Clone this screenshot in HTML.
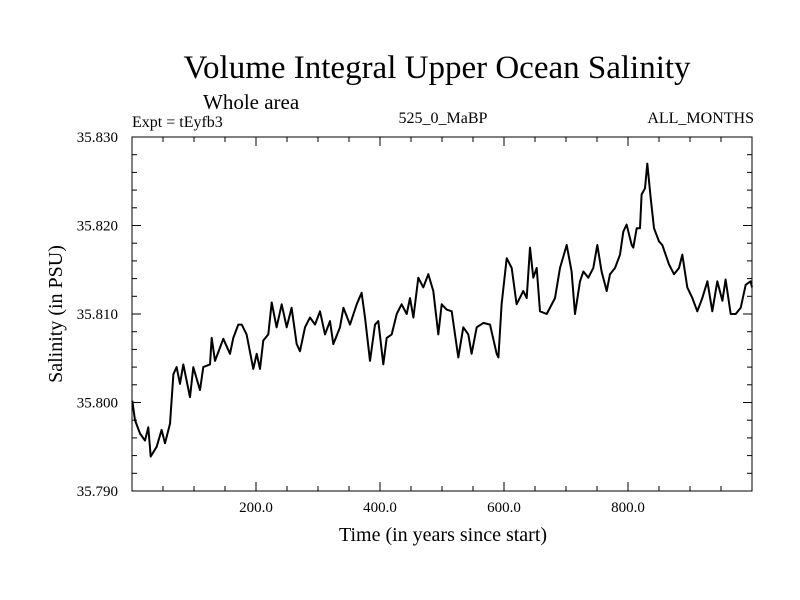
<!DOCTYPE html>
<html><head><meta charset="utf-8"><style>
body{margin:0;background:#fff}
svg{display:block;font-family:"Liberation Serif",serif}
</style></head><body>
<svg id="c" width="800" height="600">
<text x="437" y="78" font-size="33" text-anchor="middle">Volume Integral Upper Ocean Salinity</text>
<text x="203" y="109" font-size="21">Whole area</text>
<text x="132" y="127" font-size="16">Expt = tEyfb3</text>
<text x="443" y="123" font-size="16" text-anchor="middle">525_0_MaBP</text>
<text x="754" y="123" font-size="16" text-anchor="end">ALL_MONTHS</text>
<text x="443" y="541" font-size="20" text-anchor="middle">Time (in years since start)</text>
<text transform="translate(62,314) rotate(-90)" font-size="20" text-anchor="middle">Salinity (in PSU)</text>
<g id="ax"></g>
</svg>
<script>
const years=[0.5,4.8,12.9,21,26.3,30.1,39.8,47.8,53.2,61.3,66.7,72,77.4,82.8,93.5,98.9,109.7,115,125.8,128.5,133.9,141.9,147.3,158.1,163.4,171.5,176.9,184.9,195.7,201.1,206.5,211.8,219.9,225.3,233.3,241.4,249.5,257.5,265.6,271,279,287.1,295.2,303.2,311.3,319.4,324.7,335.5,340.9,351.6,362.4,370.4,375.8,383.9,391.9,397.3,405.4,410.8,418.8,426.9,434.9,443,448.4,453.8,461.8,469.9,477.9,486,494.1,499.5,507.5,515.6,526.3,534.4,542.5,547.8,555.9,566.7,577.4,588.2,590.9,596.2,604.3,612.4,620.4,631.2,636.6,642,647.3,652.7,658.1,668.8,682.3,690.3,701.1,709.1,714.5,722.6,728,736,744.1,750.5,757.5,765.6,771,779,787.1,792.5,797.8,805.9,808.6,814,819.4,822,827.4,831.2,836.6,841.9,850,855.4,866.1,874.2,882.3,887.6,895.7,903.8,911.8,919.9,928,936,944.1,952.2,957.5,965.6,973.7,981.7,989.8,997.8,1000];
const salinity=[35.8002,35.7980,35.7965,35.7957,35.7972,35.7939,35.7950,35.7969,35.7954,35.7976,35.8032,35.8040,35.8021,35.8043,35.8006,35.8040,35.8014,35.8040,35.8043,35.8073,35.8047,35.8062,35.8072,35.8055,35.8073,35.8088,35.8088,35.8077,35.8038,35.8055,35.8038,35.8070,35.8077,35.8113,35.8085,35.8111,35.8085,35.8107,35.8066,35.8058,35.8085,35.8096,35.8088,35.8103,35.8077,35.8092,35.8066,35.8085,35.8107,35.8088,35.8111,35.8124,35.8096,35.8047,35.8088,35.8092,35.8043,35.8073,35.8077,35.8100,35.8111,35.8100,35.8118,35.8096,35.8141,35.8130,35.8145,35.8126,35.8077,35.8111,35.8105,35.8103,35.8051,35.8085,35.8077,35.8055,35.8085,35.8090,35.8088,35.8055,35.8051,35.8111,35.8163,35.8152,35.8111,35.8126,35.8118,35.8175,35.8141,35.8152,35.8103,35.8100,35.8118,35.8152,35.8178,35.8148,35.8100,35.8137,35.8148,35.8141,35.8152,35.8178,35.8148,35.8126,35.8145,35.8152,35.8167,35.8193,35.8201,35.8178,35.8175,35.8197,35.8197,35.8235,35.8242,35.8270,35.8231,35.8197,35.8182,35.8178,35.8156,35.8145,35.8152,35.8167,35.8130,35.8118,35.8103,35.8118,35.8137,35.8103,35.8137,35.8115,35.8139,35.8100,35.8100,35.8107,35.8133,35.8137,35.8130];
const yTicks=[35.790,35.800,35.810,35.820,35.830];
const yTickLabels=["35.790","35.800","35.810","35.820","35.830"];
const xTicks=[200,400,600,800];
const xTickLabels=["200.0","400.0","600.0","800.0"];
const L=132,R=752,T=137,B=491,X0=0,X1=1000,Y0=35.790,Y1=35.830;
const sx=v=>L+(v-X0)/(X1-X0)*(R-L);
const sy=v=>B-(v-Y0)/(Y1-Y0)*(B-T);
const NS="http://www.w3.org/2000/svg";
const ax=document.getElementById('ax');
function mk(t,a){const e=document.createElementNS(NS,t);for(const k in a)e.setAttribute(k,a[k]);ax.appendChild(e);return e;}
const fr=mk('rect',{x:L,y:T,width:R-L,height:B-T,fill:'none',stroke:'#000','stroke-width':1});


for(let v=50;v<1000;v+=50){const big=v%200===0;const len=big?9:5;
 const t1=mk('line',{x1:sx(v),x2:sx(v),y1:B,y2:B-len,stroke:'#000'});
 
 
 const t2=mk('line',{x1:sx(v),x2:sx(v),y1:T,y2:T+len,stroke:'#000'});
 
 }
for(let i=1;i<20;i++){const v=Y0+i*0.002;const big=i%5===0;const len=big?9:5;
 const t1=mk('line',{x1:L,x2:L+len,y1:sy(v),y2:sy(v),stroke:'#000'});
 
 
 const t2=mk('line',{x1:R,x2:R-len,y1:sy(v),y2:sy(v),stroke:'#000'});
 
 }
yTicks.forEach((v,i)=>{const t=mk('text',{x:118,y:sy(v)+5,'font-size':15,'text-anchor':'end'});t.textContent=yTickLabels[i];
 
 });
xTicks.forEach((v,i)=>{const t=mk('text',{x:sx(v),y:512,'font-size':15,'text-anchor':'middle'});t.textContent=xTickLabels[i];
 
 });
const pts=years.map((y,i)=>sx(y).toFixed(1)+','+sy(salinity[i]).toFixed(1)).join(' ');
const pl=mk('polyline',{points:pts,fill:'none',stroke:'#000','stroke-width':2,'stroke-linejoin':'round'});


</script>
</body></html>
